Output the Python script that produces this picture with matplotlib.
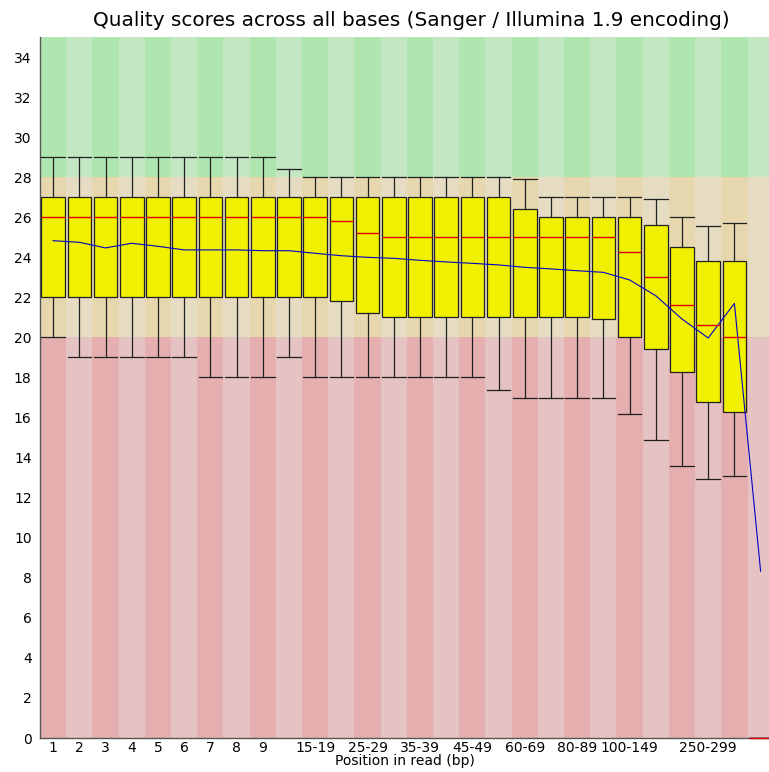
import matplotlib
matplotlib.use("Agg")
import matplotlib.pyplot as plt

# Per-base quality groups (FastQC style)
groups = ['1', '2', '3', '4', '5', '6', '7', '8', '9',
          '10-14', '15-19', '20-24', '25-29', '30-34', '35-39', '40-44', '45-49',
          '50-59', '60-69', '70-79', '80-89', '90-99',
          '100-149', '150-199', '200-249', '250-299', '300-349', '350-351']
shown_labels = ['1', '2', '3', '4', '5', '6', '7', '8', '9', '15-19', '25-29',
                '35-39', '45-49', '60-69', '80-89', '100-149', '250-299']

whishi = [29, 29, 29, 29, 29, 29, 29, 29, 29, 28.4, 28, 28, 28, 28, 28, 28, 28,
          28, 27.9, 27, 27, 27, 27, 26.9, 26, 25.55, 25.7, 0]
q3 = [27, 27, 27, 27, 27, 27, 27, 27, 27, 27, 27, 27, 27, 27, 27, 27, 27,
      27, 26.4, 26, 26, 26, 26, 25.6, 24.5, 23.8, 23.8, 0]
median = [26, 26, 26, 26, 26, 26, 26, 26, 26, 26, 26, 25.8, 25.2, 25, 25, 25, 25,
          25, 25, 25, 25, 25, 24.25, 23.0, 21.6, 20.6, 20.0, 0]
q1 = [22, 22, 22, 22, 22, 22, 22, 22, 22, 22, 22, 21.8, 21.2, 21, 21, 21, 21,
      21, 21, 21, 21, 20.9, 20.0, 19.4, 18.25, 16.8, 16.3, 0]
whislo = [20, 19, 19, 19, 19, 19, 18, 18, 18, 19, 18, 18, 18, 18, 18, 18, 18,
          17.4, 17, 17, 17, 17, 16.2, 14.9, 13.6, 12.95, 13.1, 0]
mean = [24.83, 24.75, 24.47, 24.70, 24.55, 24.37, 24.37, 24.37, 24.33, 24.33,
        24.20, 24.08, 24.0, 23.95, 23.85, 23.77, 23.7, 23.62, 23.5, 23.42,
        23.33, 23.25, 22.87, 22.08, 20.92, 19.97, 21.7, 8.33]

# background zones: (low, high, light colour, dark colour)
zones = [(28, 35, '#c3e6c3', '#afe6af'),
         (20, 28, '#e6dcc3', '#e6d7af'),
         (0, 20, '#e6c3c3', '#e6afaf')]

fig = plt.figure(figsize=(7.69, 7.72), dpi=100)
ax = fig.add_axes([40 / 769, 1 - 738 / 772, 1 - 40 / 769, (738 - 37) / 772])

n = len(groups)
for i in range(n):
    for lo, hi, light, dark in zones:
        ax.axvspan(i - 0.5, i + 0.5, ymin=lo / 35, ymax=hi / 35,
                   color=dark if i % 2 == 0 else light, lw=0, zorder=0)

stats = []
for i in range(n):
    stats.append(dict(med=median[i], q1=q1[i], q3=q3[i],
                      whislo=whislo[i], whishi=whishi[i], label=groups[i]))

parts = ax.bxp(stats, positions=range(n), widths=0.9, capwidths=0.9,
               showfliers=False, patch_artist=True,
               boxprops=dict(facecolor='#f0f000', edgecolor='#202020', lw=0.9),
               medianprops=dict(color='#e00000', lw=1.0),
               whiskerprops=dict(color='#202020', lw=0.9),
               capprops=dict(color='#202020', lw=0.9),
               manage_ticks=False, zorder=2)
for m in parts['medians']:
    m.set_zorder(4)
    m.set_clip_on(False)

ax.plot(range(n), mean, color='#0000c8', lw=0.8, zorder=3)

ax.set_xlim(-0.5, 27.32)
ax.set_ylim(0, 35)
ax.set_yticks(range(0, 35, 2))
ticks = [groups.index(g) for g in shown_labels]
ax.set_xticks(ticks)
ax.set_xticklabels(shown_labels)
ax.tick_params(axis='both', length=0, labelsize=10)
ax.tick_params(axis='y', pad=6)
ax.tick_params(axis='x', pad=2)
for s in ['top', 'right']:
    ax.spines[s].set_visible(False)
for s in ['left', 'bottom']:
    ax.spines[s].set_color('#555555')
    ax.spines[s].set_linewidth(1.0)
    ax.spines[s].set_zorder(1)

fig.text(411 / 769, 1 - 21 / 772,
         'Quality scores across all bases (Sanger / Illumina 1.9 encoding)',
         ha='center', va='center', fontsize=14.4)
fig.text(405 / 769, 1 - 761 / 772, 'Position in read (bp)',
         ha='center', va='center', fontsize=10)

fig.savefig('out.png', dpi=100)
